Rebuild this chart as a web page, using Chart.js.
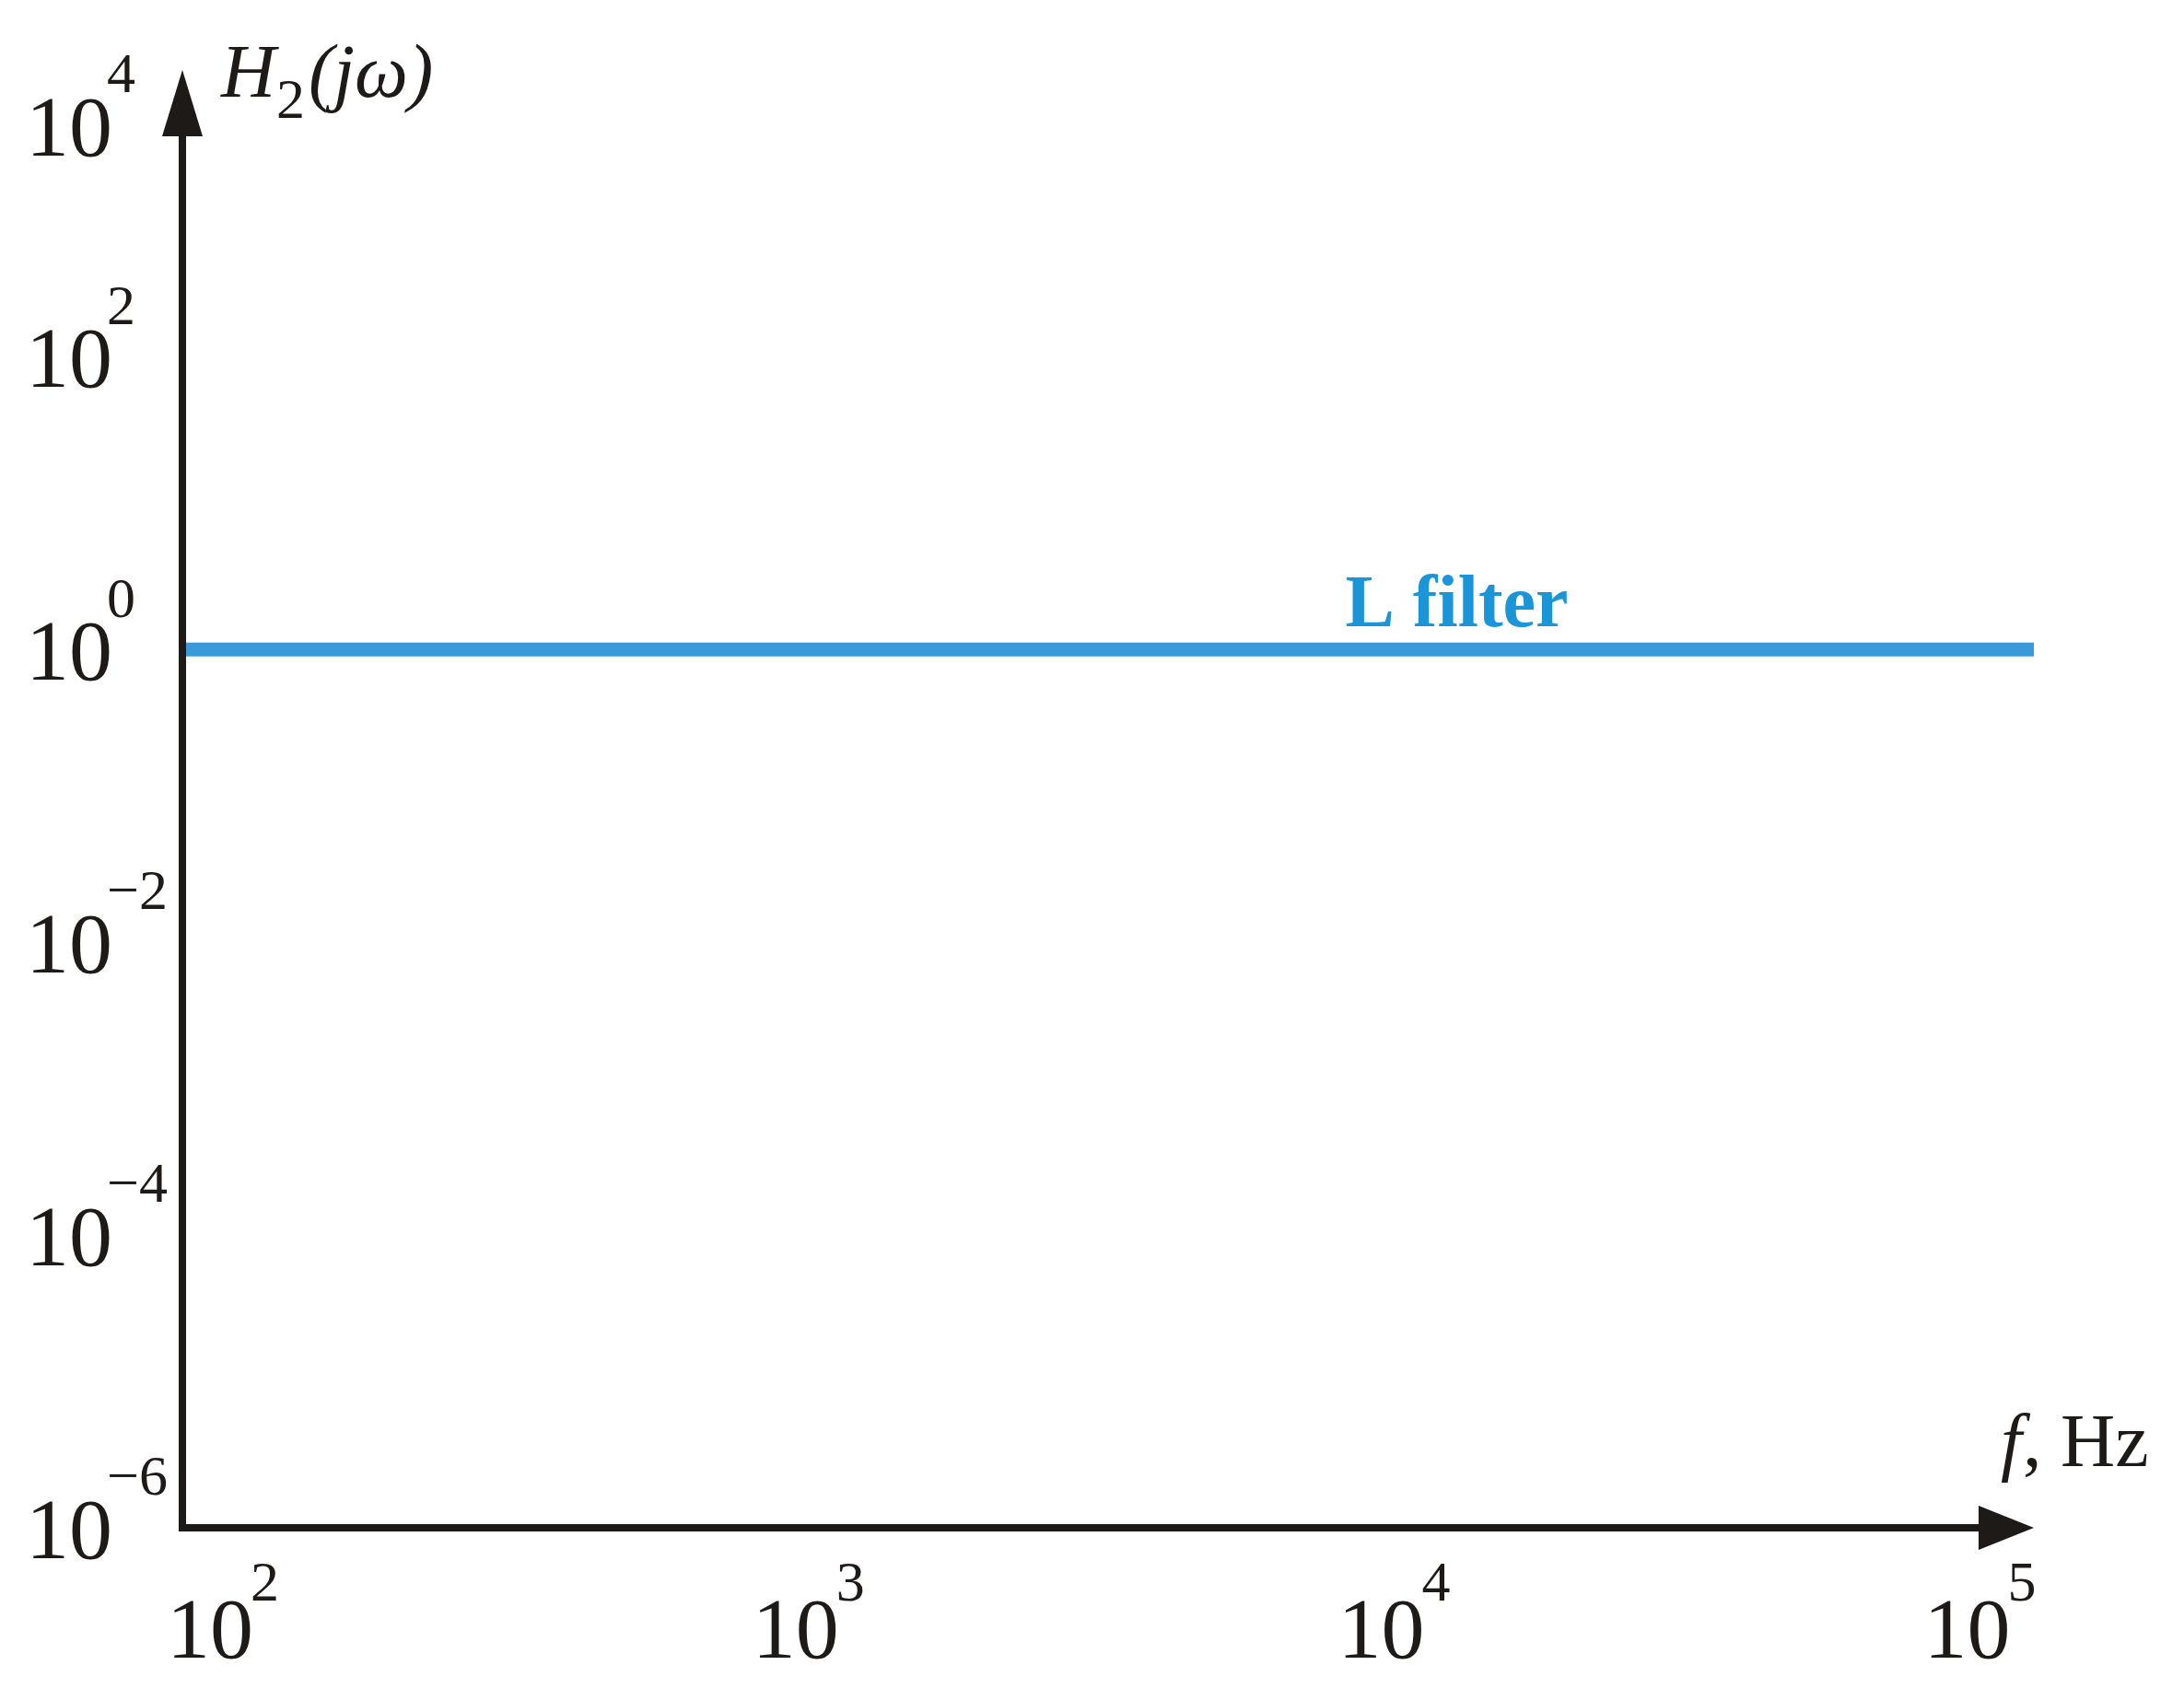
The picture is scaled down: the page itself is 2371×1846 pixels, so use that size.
<!DOCTYPE html>
<html><head><meta charset="utf-8">
<script src="https://cdn.jsdelivr.net/npm/chart.js@4"></script>
<style>html,body{margin:0;padding:0;background:#fff}#wrap{width:2371px;height:1846px}</style>
</head><body><div id="wrap"><canvas id="c" width="2371" height="1846"></canvas></div>
<script>
const frequencies = [100, 1000, 10000, 100000, 145000];
const gainLFilter = [1, 1, 1, 1, 1];
const xTickExps = [2, 3, 4, 5];
const yTickExps = [4, 2, 0, -2, -4, -6];
const seriesLabel = 'L filter';

const serif = '"Liberation Serif","DejaVu Serif",serif';
const deco = {
  id: 'deco',
  afterDraw(chart) {
    const ctx = chart.ctx, a = chart.chartArea, xs = chart.scales.x, ys = chart.scales.y;
    ctx.save();
    ctx.fillStyle = '#1e1a18'; ctx.strokeStyle = '#1e1a18';
    ctx.lineWidth = 8;
    ctx.beginPath(); ctx.moveTo(a.left, a.bottom); ctx.lineTo(a.left, a.top + 40); ctx.stroke();
    ctx.beginPath(); ctx.moveTo(a.left - 4, a.bottom); ctx.lineTo(a.right - 40, a.bottom); ctx.stroke();
    ctx.beginPath(); ctx.moveTo(a.left, a.top); ctx.lineTo(a.left - 22, a.top + 72); ctx.lineTo(a.left + 22, a.top + 72); ctx.closePath(); ctx.fill();
    ctx.beginPath(); ctx.moveTo(a.right, a.bottom); ctx.lineTo(a.right - 60, a.bottom - 24); ctx.lineTo(a.right - 60, a.bottom + 24); ctx.closePath(); ctx.fill();
    yTickExps.forEach(e => {
      let y = ys.getPixelForValue(Math.pow(10, e));
      if (y < a.top + 60) y = a.top + 60;
      ctx.font = '94px ' + serif; ctx.textAlign = 'right'; ctx.textBaseline = 'middle';
      ctx.fillText('10', 122, y + 8);
      ctx.font = '62px ' + serif; ctx.textAlign = 'left';
      ctx.fillText(e < 0 ? '\u2212' + (-e) : String(e), 116, y - 52);
    });
    xTickExps.forEach(e => {
      const x = xs.getPixelForValue(Math.pow(10, e));
      ctx.font = '94px ' + serif; ctx.textAlign = 'center'; ctx.textBaseline = 'middle';
      ctx.fillText('10', x + 30, 1775);
      ctx.font = '62px ' + serif; ctx.textAlign = 'left';
      ctx.fillText(String(e), x + 74, 1722);
    });
    ctx.textBaseline = 'alphabetic'; ctx.textAlign = 'left';
    ctx.font = 'italic 82px ' + serif; ctx.fillText('H', 240, 105);
    ctx.font = '62px ' + serif; ctx.fillText('2', 300, 128);
    ctx.font = 'italic 82px ' + serif; ctx.fillText('(jω)', 335, 105);
    ctx.font = 'italic 82px ' + serif; ctx.fillText('f', 2172, 1592);
    ctx.font = '82px ' + serif; ctx.fillText(', Hz', 2196, 1592);
    ctx.fillStyle = '#1a96d8'; ctx.font = 'bold 80px ' + serif; ctx.textAlign = 'center';
    ctx.fillText(seriesLabel, xs.getPixelForValue(15000), ys.getPixelForValue(1) - 25);
    ctx.restore();
  }
};
new Chart(document.getElementById('c'), {
  type: 'line',
  data: { datasets: [{ label: seriesLabel, data: frequencies.map((f, i) => ({ x: f, y: gainLFilter[i] })),
    borderColor: '#3a9ad9', borderWidth: 15, pointRadius: 0, fill: false }] },
  options: {
    responsive: false, animation: false, devicePixelRatio: 1,
    layout: { padding: { left: 198, top: 76, right: 2371 - 2208, bottom: 1846 - 1659 } },
    plugins: { legend: { display: false }, tooltip: { enabled: false } },
    scales: {
      x: { type: 'logarithmic', min: 100, max: 145000, display: false },
      y: { type: 'logarithmic', min: 1e-6, max: 9100, display: false }
    }
  },
  plugins: [deco]
});
</script></body></html>
